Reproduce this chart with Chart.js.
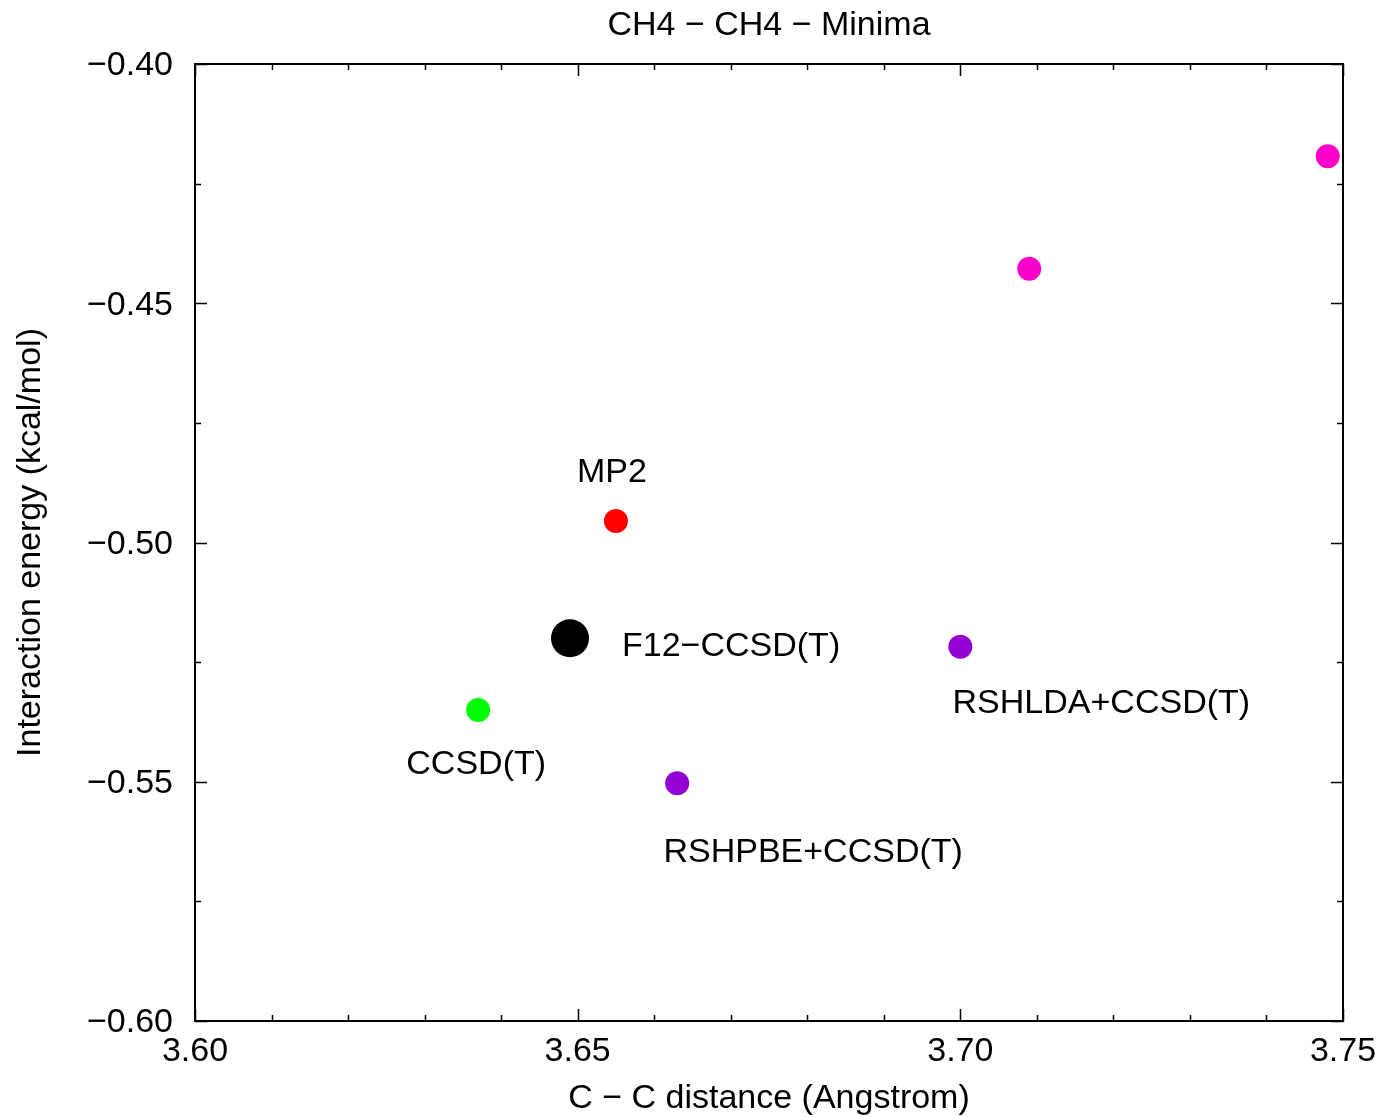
<!DOCTYPE html>
<html>
<head>
<meta charset="utf-8">
<script src="https://cdn.jsdelivr.net/npm/chart.js@4.4.1/dist/chart.umd.min.js"></script>
<style>
  html, body { margin: 0; padding: 0; background: #ffffff; }
  #wrap { width: 1381px; height: 1117px; position: relative; }
</style>
</head>
<body>
<div id="wrap"><canvas id="c"></canvas></div>
<script>
// Minimum positions of the CH4 dimer for each method: [C–C distance (Å), energy (kcal/mol)]
const methods = ['F12\u2212CCSD(T)', 'MP2', 'CCSD(T)', 'RSHPBE+CCSD(T)', 'RSHLDA+CCSD(T)', ''];
const distances = [[3.649], [3.655], [3.637], [3.663], [3.700], [3.709, 3.748]];
const energies  = [[-0.520], [-0.4955], [-0.535], [-0.5503], [-0.5218], [-0.4428, -0.4193]];
const xTicks = [3.60, 3.65, 3.70, 3.75];
const yTicks = [-0.60, -0.55, -0.50, -0.45, -0.40];
const chartTitle = 'CH4 \u2212 CH4 \u2212 Minima';

const pointColors = ['#000000', '#ff0000', '#00ff00', '#9400d3', '#9400d3', '#ff00cc'];
const pointRadii  = [19, 12, 12, 12, 12, 12];
// label placement relative to the point: [dx, dy, align]
const labelPlacement = [[52, 8, 'left'], [-4, -48, 'center'], [-2, 55, 'center'],
                        [136, 69, 'center'], [141, 57, 'center'], [0, 0, 'center']];

const FONT = 'Liberation Sans, Arial, Helvetica, sans-serif';
const FS = 34;

const datasets = methods.map((name, i) => ({
  label: name,
  data: distances[i].map((x, k) => ({ x: x, y: energies[i][k] })),
  backgroundColor: pointColors[i],
  borderWidth: 0,
  pointRadius: pointRadii[i],
  pointHoverRadius: pointRadii[i],
  showLine: false
}));

function fmt(v) {
  const s = Math.abs(v).toFixed(2);
  return v < -1e-9 ? '\u2212' + s : s;
}

// frame on all four sides with inward major/minor ticks, plus the title
const framePlugin = {
  id: 'frame',
  afterDatasetsDraw(chart) {
    const { ctx, chartArea: a, scales } = chart;
    ctx.save();
    ctx.strokeStyle = '#000';
    ctx.lineWidth = 1.5;
    const xs = scales.x, ys = scales.y;
    ctx.beginPath();
    xs.ticks.forEach(t => {
      const px = Math.round(xs.getPixelForValue(t.value)) + 0.5;
      const major = xTicks.some(v => Math.abs(v - t.value) < 1e-6);
      const len = major ? 12 : 6;
      ctx.moveTo(px, a.bottom); ctx.lineTo(px, a.bottom - len);
      ctx.moveTo(px, a.top); ctx.lineTo(px, a.top + len);
    });
    ys.ticks.forEach(t => {
      const py = Math.round(ys.getPixelForValue(t.value)) + 0.5;
      const major = yTicks.some(v => Math.abs(v - t.value) < 1e-6);
      const len = major ? 12 : 6;
      ctx.moveTo(a.left, py); ctx.lineTo(a.left + len, py);
      ctx.moveTo(a.right, py); ctx.lineTo(a.right - len, py);
    });
    ctx.stroke();
    ctx.lineWidth = 2;
    ctx.strokeRect(a.left, a.top, a.right - a.left, a.bottom - a.top);

    ctx.fillStyle = '#000';
    ctx.font = FS + 'px ' + FONT;
    ctx.textAlign = 'center';
    ctx.textBaseline = 'middle';
    ctx.fillText(chartTitle, (a.left + a.right) / 2, a.top - 38);
    ctx.restore();
  }
};

// method names beside their points
const labelPlugin = {
  id: 'methodLabels',
  afterDatasetsDraw(chart) {
    const { ctx } = chart;
    ctx.save();
    ctx.fillStyle = '#000';
    ctx.font = FS + 'px ' + FONT;
    ctx.textBaseline = 'middle';
    chart.data.datasets.forEach((ds, i) => {
      if (!ds.label) return;
      const el = chart.getDatasetMeta(i).data[0];
      const [dx, dy, align] = labelPlacement[i];
      ctx.textAlign = align;
      ctx.fillText(ds.label, el.x + dx, el.y + dy);
    });
    ctx.restore();
  }
};

new Chart(document.getElementById('c'), {
  type: 'scatter',
  data: { datasets },
  plugins: [framePlugin, labelPlugin],
  options: {
    responsive: true,
    maintainAspectRatio: false,
    animation: false,
    layout: { padding: { left: 0, right: 38, top: 64, bottom: 0 } },
    plugins: {
      legend: { display: false },
      tooltip: { enabled: false },
      title: { display: false }
    },
    scales: {
      x: {
        type: 'linear',
        min: 3.60, max: 3.75,
        afterFit(s) { s.height = 96; s.paddingLeft = 0; s.paddingRight = 0; },
        border: { display: false },
        grid: { display: false, drawTicks: false },
        ticks: {
          stepSize: 0.01,
          autoSkip: false,
          maxRotation: 0,
          padding: 10,
          color: '#000',
          font: { family: FONT, size: FS },
          callback: v => xTicks.some(t => Math.abs(t - v) < 1e-6) ? v.toFixed(2) : ''
        },
        title: {
          display: true,
          text: 'C \u2212 C distance (Angstrom)',
          color: '#000',
          font: { family: FONT, size: FS },
          padding: { top: 0, bottom: -2 }
        }
      },
      y: {
        type: 'linear',
        min: -0.60, max: -0.40,
        afterFit(s) { s.width = 195; s.paddingTop = 0; s.paddingBottom = 0; },
        border: { display: false },
        grid: { display: false, drawTicks: false },
        ticks: {
          stepSize: 0.025,
          autoSkip: false,
          padding: 22,
          labelOffset: 2,
          color: '#000',
          font: { family: FONT, size: FS },
          callback: v => yTicks.some(t => Math.abs(t - v) < 1e-6) ? fmt(v) : ''
        },
        title: {
          display: true,
          text: 'Interaction energy (kcal/mol)',
          color: '#000',
          font: { family: FONT, size: FS },
          padding: { top: 10, bottom: 0 }
        }
      }
    }
  }
});
</script>
</body>
</html>
